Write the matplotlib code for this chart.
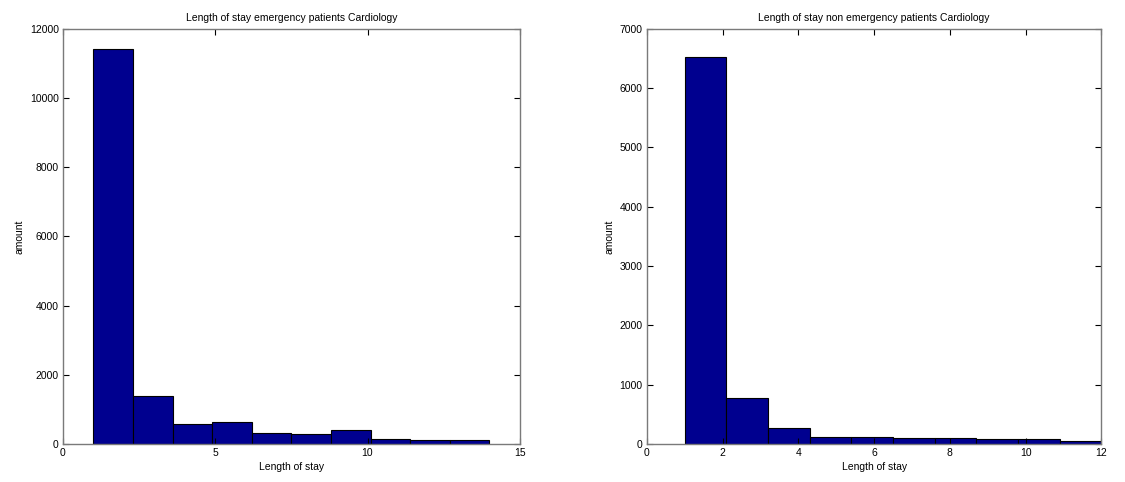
import numpy as np
import matplotlib
matplotlib.use("Agg")
import matplotlib.pyplot as plt

plt.rcParams["font.family"] = ["Liberation Sans", "DejaVu Sans"]
plt.rcParams["font.size"] = 7.5

# ===== data (histogram counts) =====
emerg_edges = np.linspace(1, 14, 11)
emerg_counts = [11410, 1390, 580, 630, 320, 285, 395, 155, 125, 120]

nonemerg_edges = np.linspace(1, 12, 11)
nonemerg_counts = [6520, 775, 270, 120, 122, 102, 100, 85, 84, 56]

bar_color = "#00008f"
spine_color = "#7a7a7a"


def draw_hist(ax, edges, counts, title, xlim, ylim, yticks):
    ax.bar(edges[:-1], counts, width=np.diff(edges), align="edge",
           color=bar_color, edgecolor="black", linewidth=0.8)
    ax.set_xlim(xlim)
    ax.set_ylim(ylim)
    ax.set_yticks(yticks)
    ax.set_title(title, fontsize=7.5, pad=6)
    ax.set_xlabel("Length of stay", labelpad=3)
    ax.set_ylabel("amount", labelpad=4)
    ax.tick_params(direction="in", top=True, right=True, length=4,
                   width=0.8, color="black", labelsize=7.5, pad=3)
    for s in ax.spines.values():
        s.set_color(spine_color)
        s.set_linewidth(1.0)


fig = plt.figure(figsize=(11.25, 4.82), dpi=100)
ax1 = fig.add_axes([0.056, 0.079, 0.406, 0.861])
ax2 = fig.add_axes([0.575, 0.079, 0.404, 0.861])

draw_hist(ax1, emerg_edges, emerg_counts,
          "Length of stay emergency patients Cardiology",
          (0, 15), (0, 12000), np.arange(0, 12001, 2000))
ax1.set_xticks([0, 5, 10, 15])

draw_hist(ax2, nonemerg_edges, nonemerg_counts,
          "Length of stay non emergency patients Cardiology",
          (0, 12), (0, 7000), np.arange(0, 7001, 1000))
ax2.set_xticks(np.arange(0, 13, 2))

fig.savefig("out.png", dpi=100)
